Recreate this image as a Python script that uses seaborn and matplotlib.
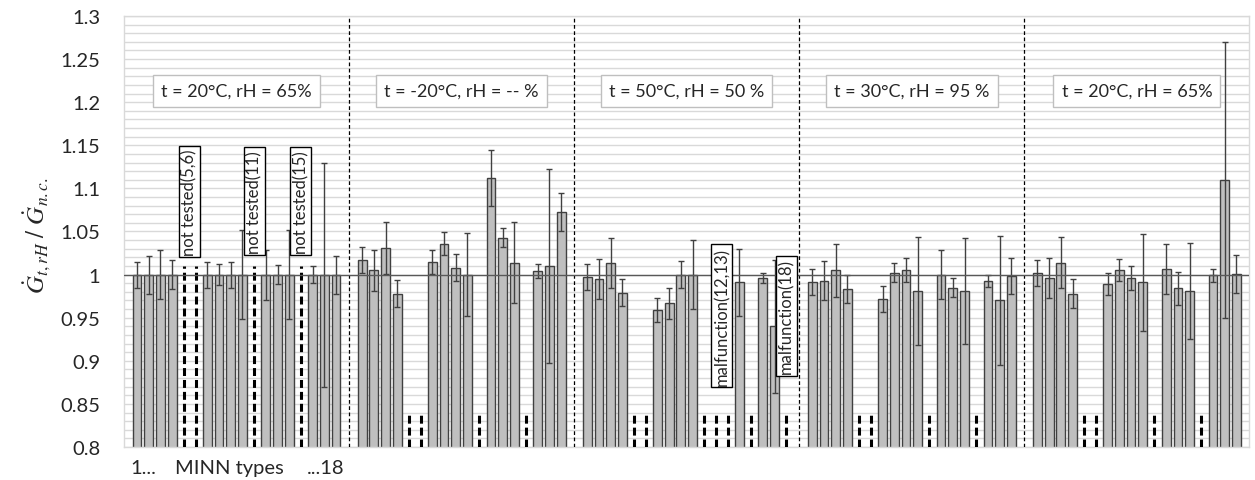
import pandas as pd
import seaborn as sns
import matplotlib.pyplot as plt
from matplotlib.ticker import MultipleLocator, FuncFormatter

# conditions (one block of 18 MINN types each)
groups = ["G1", "G2", "G3", "G4", "G5"]
conditions = ["t = 20°C, rH = 65%", "t = -20°C, rH = -- %", "t = 50°C, rH = 50 %",
              "t = 30°C, rH = 95 %", "t = 20°C, rH = 65%"]
slots = list(range(1, 19))
N = None

# ratio G_t,rH / G_n.c. per MINN type (None = not tested / malfunction)
ratio_g1 = [1.0, 1.0, 1.0, 1.0, N, N, 1.0, 1.0, 1.0, 1.0, N, 1.0, 1.0, 1.0, N, 1.0, 1.0, 1.0]
ratio_g2 = [1.017, 1.005, 1.031, 0.978, N, N, 1.015, 1.036, 1.008, 1.000, N, 1.112, 1.043, 1.014, N, 1.004, 1.010, 1.073]
ratio_g3 = [0.997, 0.995, 1.014, 0.979, N, N, 0.959, 0.967, 1.000, 1.000, N, N, N, 0.991, N, 0.996, 0.940, N]
ratio_g4 = [0.991, 0.993, 1.005, 0.983, N, N, 0.972, 1.002, 1.005, 0.981, N, 1.000, 0.985, 0.981, N, 0.993, 0.970, 0.998]
ratio_g5 = [1.002, 0.996, 1.014, 0.978, N, N, 0.989, 1.005, 0.996, 0.991, N, 1.007, 0.984, 0.981, N, 0.999, 1.110, 1.001]

# error bar half widths
err_g1 = [0.015, 0.022, 0.028, 0.017, N, N, 0.015, 0.012, 0.015, 0.052, N, 0.029, 0.011, 0.052, N, 0.010, 0.130, 0.022]
err_g2 = [0.015, 0.024, 0.030, 0.016, N, N, 0.014, 0.013, 0.016, 0.048, N, 0.033, 0.011, 0.047, N, 0.008, 0.112, 0.022]
err_g3 = [0.015, 0.023, 0.029, 0.016, N, N, 0.014, 0.018, 0.016, 0.040, N, N, N, 0.039, N, 0.006, 0.077, N]
err_g4 = [0.015, 0.023, 0.031, 0.016, N, N, 0.015, 0.011, 0.014, 0.063, N, 0.028, 0.011, 0.062, N, 0.007, 0.075, 0.021]
err_g5 = [0.015, 0.023, 0.030, 0.017, N, N, 0.013, 0.013, 0.014, 0.056, N, 0.029, 0.019, 0.056, N, 0.008, 0.160, 0.022]

# empty slots drawn as dashed markers, and how high they reach
dashed_slots = [[5, 6, 11, 15], [5, 6, 11, 15], [5, 6, 11, 12, 13, 15, 18], [5, 6, 11, 15], [5, 6, 11, 15]]
dashed_top = [1.01, 0.84, 0.84, 0.84, 0.84]

notes_text = ["not tested(5,6)", "not tested(11)", "not tested(15)", "malfunction(12,13)", "malfunction(18)"]
notes_group = [0, 0, 0, 2, 2]
notes_slots = [[5, 6], [11], [15], [12, 13], [18]]

if __name__ == '__main__':
    ratios = [ratio_g1, ratio_g2, ratio_g3, ratio_g4, ratio_g5]
    errs = [err_g1, err_g2, err_g3, err_g4, err_g5]
    rows = []
    for g, vals, es in zip(groups, ratios, errs):
        for s, v, e in zip(slots, vals, es):
            if v is not None:
                rows.append((g, s, str(s), v, e))
    df = pd.DataFrame(rows, columns=["group", "slot", "type", "ratio", "err"])

    ph_rows = []
    for g, sl, top in zip(groups, dashed_slots, dashed_top):
        for s in sl:
            ph_rows.append((g, s, str(s), top))
    ph = pd.DataFrame(ph_rows, columns=["group", "slot", "type", "top"])

    sns.set_theme(style="white")
    plt.rcParams["font.family"] = ["Lato", "DejaVu Sans"]
    plt.rcParams["mathtext.fontset"] = "stix"

    hue_order = [str(s) for s in slots]
    fig, ax = plt.subplots(figsize=(12.55, 4.81), dpi=100)
    fig.subplots_adjust(left=0.0988, right=0.9956, bottom=0.0686, top=0.9647)

    sns.barplot(data=df, x="group", y="ratio", hue="type", order=groups, hue_order=hue_order,
                palette={h: "#bfbfbf" for h in hue_order}, edgecolor="#404040", linewidth=1,
                width=0.936, gap=0.25, errorbar=None, legend=False, ax=ax, zorder=2)

    # error bars on the bar centres
    bars = sorted(ax.patches, key=lambda p: p.get_x())
    df_sorted = df.sort_values(["group", "slot"])
    xc = [p.get_x() + p.get_width() / 2 for p in bars]
    ax.errorbar(xc, df_sorted["ratio"], yerr=df_sorted["err"], fmt="none", ecolor="#404040",
                elinewidth=1, capsize=2.5, capthick=1, zorder=3)

    # placeholder bars -> dashed markers
    n_before = len(ax.patches)
    sns.barplot(data=ph, x="group", y="top", hue="type", order=groups, hue_order=hue_order,
                width=0.936, gap=0.25, errorbar=None, legend=False, ax=ax, fill=False)
    new = sorted(ax.patches[n_before:], key=lambda p: p.get_x())
    ph_sorted = ph.sort_values(["group", "slot"])
    pos = {}
    for p, (_, r) in zip(new, ph_sorted.iterrows()):
        x = p.get_x() + p.get_width() / 2
        pos[(r["group"], r["slot"])] = x
        ax.vlines(x, 0.8, r["top"], colors="black", linestyles=(0, (2.6, 1.3)), linewidth=2.2, zorder=3)
        p.remove()

    # separators between conditions
    for i in range(len(groups) - 1):
        ax.axvline(i + 0.5, color="black", linewidth=0.9, linestyle=(0, (3, 2)), zorder=3)
    ax.axhline(1.0, color="#595959", linewidth=1, zorder=4)

    # condition labels
    for i, cond in enumerate(conditions):
        ax.text(i, 1.213, cond, ha="center", va="center", fontsize=13, color="#262626", zorder=6,
                bbox=dict(boxstyle="square,pad=0.45", fc="white", ec="#bfbfbf", lw=1))

    # not tested / malfunction notes
    for txt, g, sl in zip(notes_text, notes_group, notes_slots):
        x = sum(pos[(groups[g], s)] for s in sl) / len(sl)
        y = 1.085 if txt.startswith("not") else 0.9525
        ax.text(x, y, txt, rotation=90, ha="center", va="center", fontsize=12, color="#262626", zorder=6,
                bbox=dict(boxstyle="square,pad=0.15", fc="white", ec="black", lw=1))

    # axes styling
    ax.set_ylim(0.8, 1.3)
    ax.set_xlim(-0.5, len(groups) - 0.5)
    ax.set_xticks([])
    ax.set_xlabel("")
    ax.set_ylabel("")
    ax.yaxis.set_major_locator(MultipleLocator(0.05))
    ax.yaxis.set_minor_locator(MultipleLocator(0.01))
    ax.yaxis.set_major_formatter(FuncFormatter(lambda v, _: f"{round(v, 2):g}"))
    ax.grid(which="both", axis="y", color="#d9d9d9", linewidth=1)
    ax.set_axisbelow(True)
    ax.tick_params(axis="y", which="both", length=0, pad=17, labelsize=14.5, labelcolor="#262626")
    for sp in ax.spines.values():
        sp.set_color("#d9d9d9")
        sp.set_linewidth(1)

    # x legend text under the first block
    tr = ax.get_xaxis_transform()
    ax.text(-0.47, -0.047, "1...", transform=tr, ha="left", va="center", fontsize=14.5, color="#262626")
    ax.text(-0.03, -0.047, "MINN types", transform=tr, ha="center", va="center", fontsize=14.5, color="#262626")
    ax.text(0.48, -0.047, "...18", transform=tr, ha="right", va="center", fontsize=14.5, color="#262626")

    fig.text(0.0295, 0.511, r"$\dot{G}_{t,rH}\ /\ \dot{G}_{n.c.}$", rotation=90, ha="center", va="center",
             fontsize=18, color="#262626")

    fig.savefig("out.png", dpi=100)
